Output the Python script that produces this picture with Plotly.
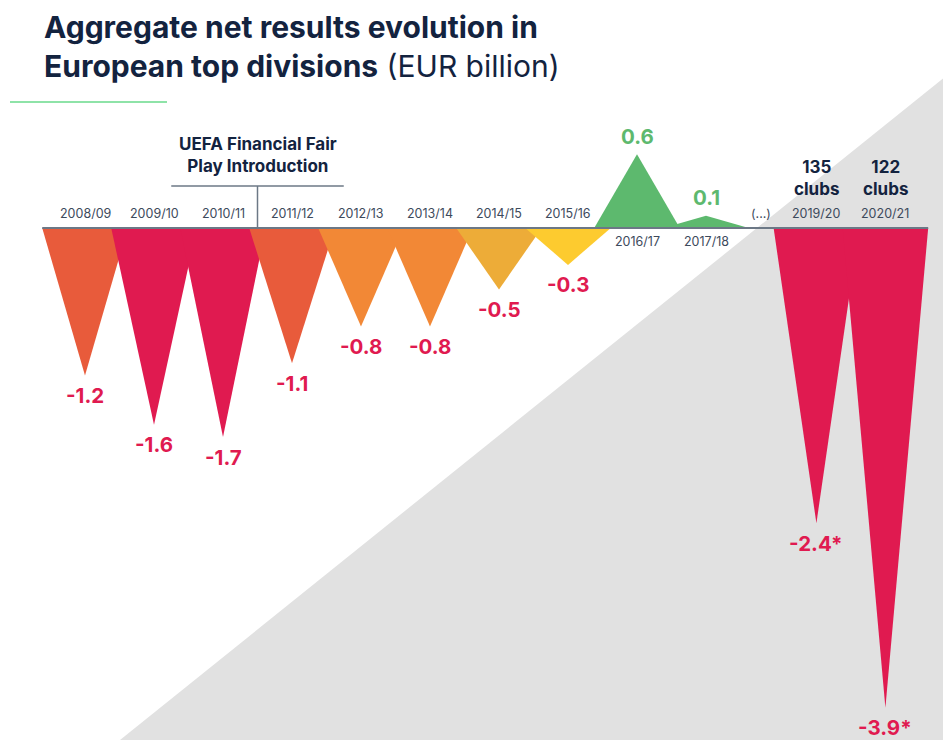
import plotly.graph_objects as go

# ---------------- data ----------------
seasons = ["2008/09", "2009/10", "2010/11", "2011/12", "2012/13", "2013/14",
           "2014/15", "2015/16", "2016/17", "2017/18", "2019/20", "2020/21"]
net_results = [-1.2, -1.6, -1.7, -1.1, -0.8, -0.8, -0.5, -0.3, 0.6, 0.1, -2.4, -3.9]
value_notes = ["", "", "", "", "", "", "", "", "", "", "*", "*"]
club_counts = [None, None, None, None, None, None, None, None, None, None, 135, 122]
bar_colors = ["#E85B3B", "#E01A50", "#E01A50", "#E85B3B", "#F28836", "#F28836",
              "#EDAC38", "#FDCB2F", "#5DB96E", "#5DB96E", "#E01A50", "#E01A50"]

# ---------------- layout helpers ----------------
VIEW_W, VIEW_H = 951, 740
OFF = 8                      # default page margin around the plot div
W, H = VIEW_W - OFF, VIEW_H - OFF
GAP_AFTER = 10               # a gap "(...)" is inserted before the 11th season
GAP = 0.6
HALF = 0.62                  # half base width of each triangle (category units)
NEG_COLOR = "#E01A50"
POS_COLOR = "#5DB96E"
NAVY = "#13233F"
LABEL = "#3D4A5C"
FONT = "Inter"


def px(xs):   # screen x pixel -> paper x
    return (xs - OFF) / W


def py(ys):   # screen y pixel -> paper y
    return 1 - (ys - OFF) / H


xpos = [i + (GAP if i >= GAP_AFTER else 0) for i in range(len(seasons))]

# 69 px per category, first category centred at screen x=85;
# baseline at screen y=228, 123 px per EUR billion
PX_CAT, X0_PX = 69.0, 85.0 - OFF
PX_UNIT, BASE_PX = 123.0, 228.0 - OFF
x_range = [-X0_PX / PX_CAT, (W - X0_PX) / PX_CAT]
y_range = [-(H - BASE_PX) / PX_UNIT, BASE_PX / PX_UNIT]

fig = go.Figure()

for x, v, c in zip(xpos, net_results, bar_colors):
    fig.add_trace(go.Scatter(
        x=[x - HALF, x, x + HALF, x - HALF],
        y=[0, v, 0, 0],
        mode="lines", fill="toself", fillcolor=c,
        line=dict(width=0, color=c), hoverinfo="skip", showlegend=False,
    ))

annotations = []
for x, v, s, note, clubs in zip(xpos, net_results, seasons, value_notes, club_counts):
    neg = v < 0
    annotations.append(dict(
        x=x, y=0, xref="x", yref="y", text=s, showarrow=False, yanchor="middle",
        yshift=15 if neg else -13, font=dict(family=FONT, size=12.5, color=LABEL),
    ))
    annotations.append(dict(
        x=x, y=v, xref="x", yref="y", text=f"<b>{v:.1f}{note}</b>",
        showarrow=False, yanchor="middle", yshift=-20 if neg else 18,
        font=dict(family=FONT, size=20.5, color=NEG_COLOR if neg else POS_COLOR),
    ))
    if clubs is not None:
        annotations.append(dict(
            x=x, y=0, xref="x", yref="y", text=f"<b>{clubs}<br>clubs</b>",
            showarrow=False, yanchor="middle", yshift=50,
            font=dict(family=FONT, size=17, color=NAVY),
        ))

gap_x = (xpos[GAP_AFTER - 1] + xpos[GAP_AFTER]) / 2
annotations.append(dict(x=gap_x, y=0, xref="x", yref="y", text="(...)", showarrow=False,
                        yanchor="middle", yshift=15,
                        font=dict(family=FONT, size=12.5, color=LABEL)))

ffp_x = (xpos[2] + xpos[3]) / 2
annotations.append(dict(
    x=ffp_x, y=py(155), xref="x", yref="paper", yanchor="middle",
    text="<b>UEFA Financial Fair<br>Play Introduction</b>", showarrow=False,
    font=dict(family=FONT, size=17, color=NAVY),
))

annotations.append(dict(
    x=px(43), y=1, xref="paper", yref="paper", xanchor="left", yanchor="top",
    align="left", showarrow=False, borderpad=0,
    text="<b>Aggregate net results evolution in</b><br><b>European top divisions</b> (EUR billion)",
    font=dict(family=FONT, size=30, color=NAVY),
))

bracket_y = py(186)
shapes = [
    dict(type="path", xref="paper", yref="paper", layer="below",
         path=f"M {px(120)},0 L 1,{py(72)} L 1,0 Z",
         fillcolor="#E1E1E1", line=dict(width=0)),
    dict(type="line", xref="paper", yref="paper", x0=px(10), x1=px(167),
         y0=py(102), y1=py(102), line=dict(color="#8EE3A8", width=2)),
    dict(type="line", xref="x", yref="y", x0=xpos[0] - HALF, x1=xpos[-1] + HALF,
         y0=0, y1=0, line=dict(color="#6C7886", width=2), layer="above"),
    dict(type="line", xref="x", yref="paper", x0=ffp_x - 1.25, x1=ffp_x + 1.25,
         y0=bracket_y, y1=bracket_y, line=dict(color="#6C7886", width=1.5)),
    dict(type="line", xref="x", yref="paper", x0=ffp_x, x1=ffp_x,
         y0=bracket_y, y1=py(228), line=dict(color="#6C7886", width=1.5)),
]

fig.update_layout(
    width=W, height=H, margin=dict(l=0, r=0, t=0, b=0),
    paper_bgcolor="white", plot_bgcolor="rgba(0,0,0,0)",
    xaxis=dict(range=x_range, visible=False, fixedrange=True),
    yaxis=dict(range=y_range, visible=False, fixedrange=True),
    annotations=annotations, shapes=shapes, showlegend=False,
)

fig.write_html("out.html")
